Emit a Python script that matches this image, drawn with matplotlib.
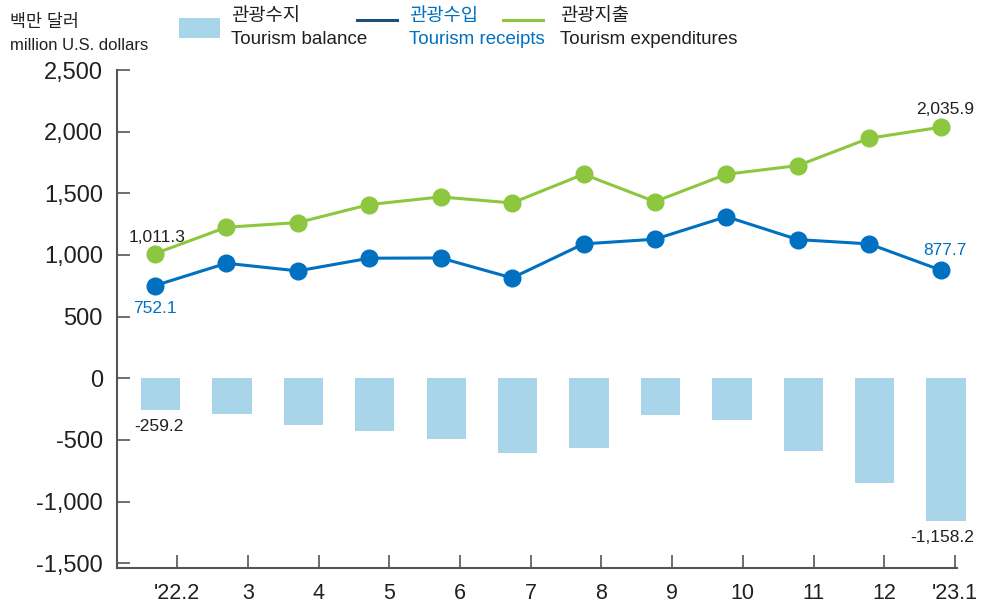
import numpy as np
import matplotlib.pyplot as plt
from matplotlib.lines import Line2D
from matplotlib.patches import Rectangle
from matplotlib.ticker import FuncFormatter

plt.rcParams['font.family'] = ['Liberation Sans', 'Noto Sans CJK KR', 'DejaVu Sans']

# data (million U.S. dollars)
months = ["'22.2", "3", "4", "5", "6", "7", "8", "9", "10", "11", "12", "'23.1"]
receipts = [752.1, 933, 871, 974, 976, 814, 1090, 1128, 1311, 1125, 1090, 877.7]
expenditures = [1011.3, 1225, 1263, 1409, 1471, 1422, 1655, 1433, 1655, 1725, 1947, 2035.9]
balance = [-259.2, -290, -380, -425, -492, -606, -565, -300, -340, -590, -850, -1158.2]

c_bar = '#a9d5eb'
c_rec = '#0070c0'
c_exp = '#8dc63f'
c_txt = '#231f20'
c_axis = '#555555'

x = np.arange(len(months))

fig = plt.figure(figsize=(9.81, 6.10), dpi=100)
ax = fig.add_axes([0.1190, 0.0685, 0.8566, 0.8167])

bars = ax.bar(x + 0.077, balance, width=0.55, color=c_bar, zorder=1)
for b in bars:
    b.set_clip_on(False)
ax.plot(x, receipts, color=c_rec, lw=2.2, marker='o', ms=12, zorder=3)
ax.plot(x, expenditures, color=c_exp, lw=2.2, marker='o', ms=12, zorder=3)

ax.set_ylim(-1540, 2500)
ax.set_xlim(-0.536, 11.23)
ax.set_yticks(np.arange(-1500, 2501, 500))
ax.yaxis.set_major_formatter(FuncFormatter(lambda v, p: f"{int(v):,}"))
# category ticks sit right of the points, spaced slightly tighter
ax.set_xticks(np.linspace(0.312, 11.2, len(months)), months)

for s in ['top', 'right']:
    ax.spines[s].set_visible(False)
for s in ['left', 'bottom']:
    ax.spines[s].set_color(c_axis)
    ax.spines[s].set_linewidth(1.5)
ax.tick_params(axis='y', direction='in', length=9.4, width=1.2, color=c_axis,
               labelsize=17, labelcolor=c_txt, pad=10)
ax.tick_params(axis='x', direction='in', length=9.4, width=1.2, color=c_axis,
               labelsize=15.5, labelcolor=c_txt, pad=11)

# value labels at first and last points
fs = 12.5
ax.annotate('1,011.3', (x[0], expenditures[0]), xytext=(1.5, 11.5), textcoords='offset points',
            ha='center', va='center', fontsize=fs, color=c_txt)
ax.annotate('752.1', (x[0], receipts[0]), xytext=(0, -16.5), textcoords='offset points',
            ha='center', va='center', fontsize=fs, color=c_rec)
ax.annotate('2,035.9', (x[-1], expenditures[-1]), xytext=(3, 12.5), textcoords='offset points',
            ha='center', va='center', fontsize=fs, color=c_txt)
ax.annotate('877.7', (x[-1], receipts[-1]), xytext=(3, 14), textcoords='offset points',
            ha='center', va='center', fontsize=fs, color=c_rec)
ax.annotate('-259.2', (x[0] + 0.077, balance[0]), xytext=(-1, -11.5), textcoords='offset points',
            ha='center', va='center', fontsize=fs, color=c_txt)
ax.annotate('-1,158.2', (x[-1] + 0.077, balance[-1]), xytext=(-2.5, -11.5), textcoords='offset points',
            ha='center', va='center', fontsize=fs, color=c_txt)

# unit label
fig.text(10 / 981, 1 - 22 / 610, '백만 달러', fontsize=12.5, color=c_txt, va='center', ha='left')
fig.text(10 / 981, 1 - 46 / 610, 'million U.S. dollars', fontsize=12, color=c_txt, va='center', ha='left')

# legend
W, H = 981, 610
fig.add_artist(Rectangle((179 / W, 1 - 38 / H), 41 / W, 20 / H, transform=fig.transFigure,
                         color=c_bar, lw=0))
fig.text(231 / W, 1 - 17 / H, '관광수지', fontsize=13.5, color=c_txt, va='center')
fig.text(231 / W, 1 - 40 / H, 'Tourism balance', fontsize=13.5, color=c_txt, va='center')
fig.add_artist(Line2D([357 / W, 397 / W], [1 - 20 / H] * 2, transform=fig.transFigure,
                      color='#1f4e79', lw=2.2))
fig.text(409 / W, 1 - 17 / H, '관광수입', fontsize=13.5, color=c_rec, va='center')
fig.text(409 / W, 1 - 40 / H, 'Tourism receipts', fontsize=13.5, color=c_rec, va='center')
fig.add_artist(Line2D([503 / W, 543 / W], [1 - 20 / H] * 2, transform=fig.transFigure,
                      color=c_exp, lw=2.2))
fig.text(560 / W, 1 - 17 / H, '관광지출', fontsize=13.5, color=c_txt, va='center')
fig.text(560 / W, 1 - 40 / H, 'Tourism expenditures', fontsize=13.5, color=c_txt, va='center')

fig.savefig('out.png', dpi=100)
plt.close(fig)
